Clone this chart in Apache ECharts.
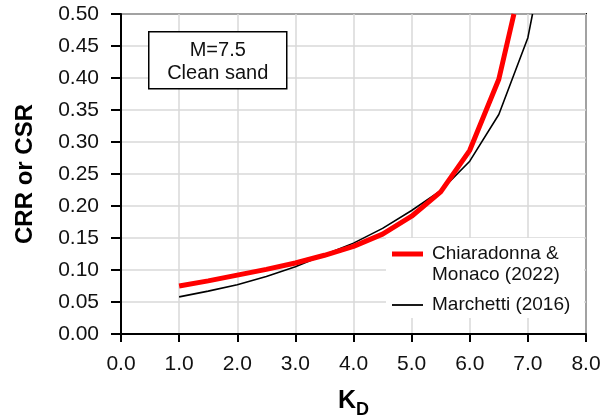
<!DOCTYPE html>
<html>
<head>
<meta charset="utf-8">
<script src="https://cdn.jsdelivr.net/npm/echarts@6/dist/echarts.min.js"></script>
<style>
html,body{margin:0;padding:0;background:#fff;}
#chart{width:613px;height:418px;}
</style>
</head>
<body>
<div id="chart"></div>
<script>
// Data
const kdChiaradonna  = [1.0, 1.5, 2.0, 2.5, 3.0, 3.5, 4.0, 4.5, 5.0, 5.5, 6.0, 6.5, 6.76];
const crrChiaradonna = [0.075, 0.083, 0.092, 0.101, 0.111, 0.123, 0.137, 0.156, 0.184, 0.222, 0.287, 0.398, 0.500];
const kdMarchetti    = [1.0, 1.5, 2.0, 2.5, 3.0, 3.5, 4.0, 4.5, 5.0, 5.5, 6.0, 6.5, 7.0, 7.08];
const crrMarchetti   = [0.058, 0.067, 0.077, 0.090, 0.105, 0.124, 0.142, 0.165, 0.193, 0.224, 0.270, 0.343, 0.463, 0.500];
const seriesNames = ['Chiaradonna &\nMonaco (2022)', 'Marchetti (2016)'];
const annotationLines = ['M=7.5', 'Clean sand'];
const xAxisTitle = {main: 'K', sub: 'D'};
const yAxisTitle = 'CRR or CSR';

const FONT = "'Liberation Sans', Arial, sans-serif";
const chart = echarts.init(document.getElementById('chart'), null, {renderer: 'canvas'});

const zip = (xs, ys) => xs.map((x, i) => [x, ys[i]]);

chart.setOption({
  animation: false,
  backgroundColor: '#fff',
  textStyle: {fontFamily: FONT},
  grid: {left: 121, right: 27, top: 14, bottom: 84, outerBoundsMode: 'none', containLabel: false,
         show: true, borderColor: '#000', borderWidth: 2, backgroundColor: 'transparent'},
  xAxis: {
    type: 'value', min: 0, max: 8, interval: 1,
    name: '{k|' + xAxisTitle.main + '}{d|' + xAxisTitle.sub + '}',
    nameLocation: 'middle', nameGap: 50,
    nameTextStyle: {
      rich: {
        k: {fontFamily: FONT, fontSize: 25, fontWeight: 'bold', color: '#000', verticalAlign: 'bottom', lineHeight: 30},
        d: {fontFamily: FONT, fontSize: 18, fontWeight: 'bold', color: '#000', verticalAlign: 'bottom', lineHeight: 22, padding: [0, 0, -5, 0]}
      }
    },
    axisLine: {show: true, onZero: false, lineStyle: {color: '#000', width: 2}},
    axisTick: {show: true, inside: false, length: 8, lineStyle: {color: '#000', width: 2}},
    axisLabel: {fontFamily: FONT, fontSize: 21, color: '#111', margin: 20, formatter: v => v.toFixed(1)},
    splitLine: {show: true, lineStyle: {color: '#d9d9d9', width: 1.5}}
  },
  yAxis: {
    type: 'value', min: 0, max: 0.5, interval: 0.05,
    name: yAxisTitle, nameLocation: 'middle', nameGap: 84, nameRotate: 90,
    nameTextStyle: {fontFamily: FONT, fontSize: 24, fontWeight: 'bold', color: '#000'},
    axisLine: {show: true, onZero: false, lineStyle: {color: '#000', width: 2}},
    axisTick: {show: true, inside: false, length: 10, lineStyle: {color: '#000', width: 2}},
    axisLabel: {fontFamily: FONT, fontSize: 21, color: '#111', margin: 22, formatter: v => v.toFixed(2)},
    splitLine: {show: true, lineStyle: {color: '#d9d9d9', width: 1.5}}
  },
  series: [
    {
      name: seriesNames[1], type: 'line', data: zip(kdMarchetti, crrMarchetti),
      showSymbol: false, symbol: 'none', smooth: false, clip: true, z: 3,
      lineStyle: {color: '#000', width: 1.6}
    },
    {
      name: seriesNames[0], type: 'line', data: zip(kdChiaradonna, crrChiaradonna),
      showSymbol: false, symbol: 'none', smooth: false, clip: true, z: 4,
      lineStyle: {color: '#ff0000', width: 5}
    }
  ],
  graphic: [
    {
      type: 'group', left: 148, top: 31, z: 20,
      children: [
        {type: 'rect', z: 20, shape: {x: 0, y: 0, width: 138, height: 57}, style: {fill: '#fff', stroke: '#000', lineWidth: 1.5}},
        {type: 'text', z: 21, x: 69, y: 19, style: {text: annotationLines[0], font: "20px " + FONT, fill: '#111', align: 'center', verticalAlign: 'middle'}},
        {type: 'text', z: 21, x: 69, y: 42, style: {text: annotationLines[1], font: "20px " + FONT, fill: '#111', align: 'center', verticalAlign: 'middle'}}
      ]
    },
    {
      type: 'group', left: 386, top: 238, z: 20,
      children: [
        {type: 'rect', z: 20, shape: {x: 0, y: 0, width: 198, height: 80}, style: {fill: '#fff'}},
        {type: 'line', z: 21, shape: {x1: 6, y1: 16, x2: 37, y2: 16}, style: {stroke: '#ff0000', lineWidth: 5}},
        {type: 'text', z: 21, x: 46, y: 16, style: {text: 'Chiaradonna &', font: "19px " + FONT, fill: '#111', align: 'left', verticalAlign: 'middle'}},
        {type: 'text', z: 21, x: 46, y: 37, style: {text: 'Monaco (2022)', font: "19px " + FONT, fill: '#111', align: 'left', verticalAlign: 'middle'}},
        {type: 'line', z: 21, shape: {x1: 6, y1: 67, x2: 37, y2: 67}, style: {stroke: '#000', lineWidth: 1.8}},
        {type: 'text', z: 21, x: 46, y: 67, style: {text: seriesNames[1], font: "19px " + FONT, fill: '#111', align: 'left', verticalAlign: 'middle'}}
      ]
    }
  ]
});
</script>
</body>
</html>
